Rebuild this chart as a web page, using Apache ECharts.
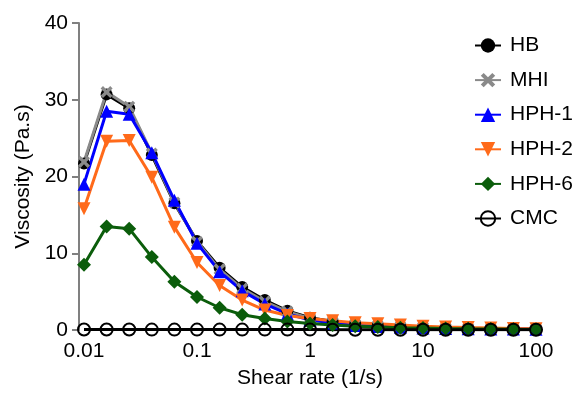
<!DOCTYPE html>
<html>
<head>
<meta charset="utf-8">
<script src="https://cdn.jsdelivr.net/npm/echarts@6/dist/echarts.min.js"></script>
<style>
  html, body { margin: 0; padding: 0; background: #fff; }
  #chart { width: 586px; height: 394px; }
</style>
</head>
<body>
<div id="chart"></div>
<script>
// shear rates, 5 points per decade
const shearRate = [0.01, 0.01585, 0.02512, 0.03981, 0.0631, 0.1, 0.1585, 0.2512, 0.3981, 0.631,
  1, 1.585, 2.512, 3.981, 6.31, 10, 15.85, 25.12, 39.81, 63.1, 100];

const hb = [21.7, 30.7, 28.9, 22.8, 16.5, 11.6, 8.1, 5.6, 3.9, 2.5, 1.6, 1.1, 0.8, 0.6, 0.45, 0.35, 0.28, 0.22, 0.18, 0.14, 0.12];
const mhi = [21.9, 31.0, 29.1, 23.0, 16.6, 11.5, 7.9, 5.4, 3.7, 2.4, 1.5, 1.0, 0.75, 0.55, 0.42, 0.33, 0.26, 0.2, 0.16, 0.13, 0.11];
const hph1 = [19.0, 28.5, 28.1, 23.1, 16.9, 11.3, 7.6, 5.1, 3.4, 2.1, 1.3, 0.9, 0.6, 0.45, 0.35, 0.27, 0.21, 0.17, 0.14, 0.12, 0.1];
const hph2 = [15.8, 24.6, 24.7, 19.9, 13.4, 8.8, 5.8, 3.9, 2.6, 1.9, 1.5, 1.2, 0.95, 0.8, 0.65, 0.5, 0.4, 0.32, 0.26, 0.2, 0.16];
const hph6 = [8.5, 13.5, 13.2, 9.5, 6.3, 4.3, 2.9, 2.0, 1.5, 1.1, 0.85, 0.65, 0.5, 0.4, 0.3, 0.25, 0.2, 0.16, 0.13, 0.1, 0.08];
const cmc = [0.06, 0.06, 0.06, 0.05, 0.05, 0.05, 0.05, 0.05, 0.05, 0.05, 0.05, 0.04, 0.04, 0.04, 0.04, 0.04, 0.04, 0.04, 0.04, 0.04, 0.04];

const yTicks = [0, 10, 20, 30, 40];
const xTickLabels = { 0.01: '0.01', 0.1: '0.1', 1: '1', 10: '10', 100: '100' };

const font = 'Liberation Sans, Arial, sans-serif';
const axisGray = '#808080';
const crossPath = 'path://M2,0 L5,3 L8,0 L10,2 L7,5 L10,8 L8,10 L5,7 L2,10 L0,8 L3,5 L0,2 Z';

function pairs(ys) {
  return shearRate.map((x, i) => [x, ys[i]]);
}

function lineSeries(name, data, color, symbol, size, extra) {
  return Object.assign({
    name: name,
    type: 'line',
    data: pairs(data),
    symbol: symbol,
    symbolSize: size,
    showAllSymbol: true,
    lineStyle: { color: color, width: 3 },
    itemStyle: { color: color },
    emphasis: { disabled: true },
    animation: false
  }, extra || {});
}

const chart = echarts.init(document.getElementById('chart'));

chart.setOption({
  animation: false,
  textStyle: { fontFamily: font },
  grid: { left: 84, right: 50, top: 23, bottom: 62, containLabel: false },
  legend: {
    orient: 'vertical',
    left: 469,
    top: 30,
    itemWidth: 26,
    itemHeight: 18,
    itemGap: 13.6,
    textStyle: { fontSize: 21, color: '#000', fontFamily: font, padding: [0, 0, 0, 4] },
    data: ['HB', 'MHI', 'HPH-1', 'HPH-2', 'HPH-6', 'CMC']
  },
  xAxis: {
    type: 'log',
    logBase: 10,
    min: 0.01,
    max: 100,
    name: 'Shear rate (1/s)',
    nameLocation: 'middle',
    nameGap: 38,
    nameTextStyle: { fontSize: 21, color: '#000', fontFamily: font },
    axisLine: { show: false },
    axisTick: { show: false },
    splitLine: { show: false },
    axisLabel: {
      fontSize: 21,
      color: '#000',
      margin: 11,
      formatter: v => xTickLabels[+v.toPrecision(3)] || ''
    }
  },
  yAxis: {
    type: 'value',
    min: yTicks[0],
    max: yTicks[yTicks.length - 1],
    interval: 10,
    offset: 5,
    name: 'Viscosity (Pa.s)',
    nameLocation: 'middle',
    nameGap: 36,
    nameTextStyle: { fontSize: 21, color: '#000', fontFamily: font },
    axisLine: { show: true, lineStyle: { color: axisGray, width: 2 } },
    axisTick: { show: true, length: 7, lineStyle: { color: axisGray, width: 2 } },
    splitLine: { show: false },
    axisLabel: { fontSize: 21, color: '#000', margin: 11 }
  },
  series: [
    lineSeries('HB', hb, '#000000', 'circle', 12),
    lineSeries('MHI', mhi, '#8a8a8a', crossPath, 12),
    lineSeries('HPH-1', hph1, '#0000ff', 'triangle', 13),
    lineSeries('HPH-2', hph2, '#ff6a1a', 'triangle', 13, { symbolRotate: 180 }),
    lineSeries('HPH-6', hph6, '#0b5d0b', 'diamond', 14),
    lineSeries('CMC', cmc, '#000000', 'circle', 12, {
      itemStyle: { color: 'rgba(0,0,0,0)', borderColor: '#000', borderWidth: 2 }
    })
  ]
});
</script>
</body>
</html>
